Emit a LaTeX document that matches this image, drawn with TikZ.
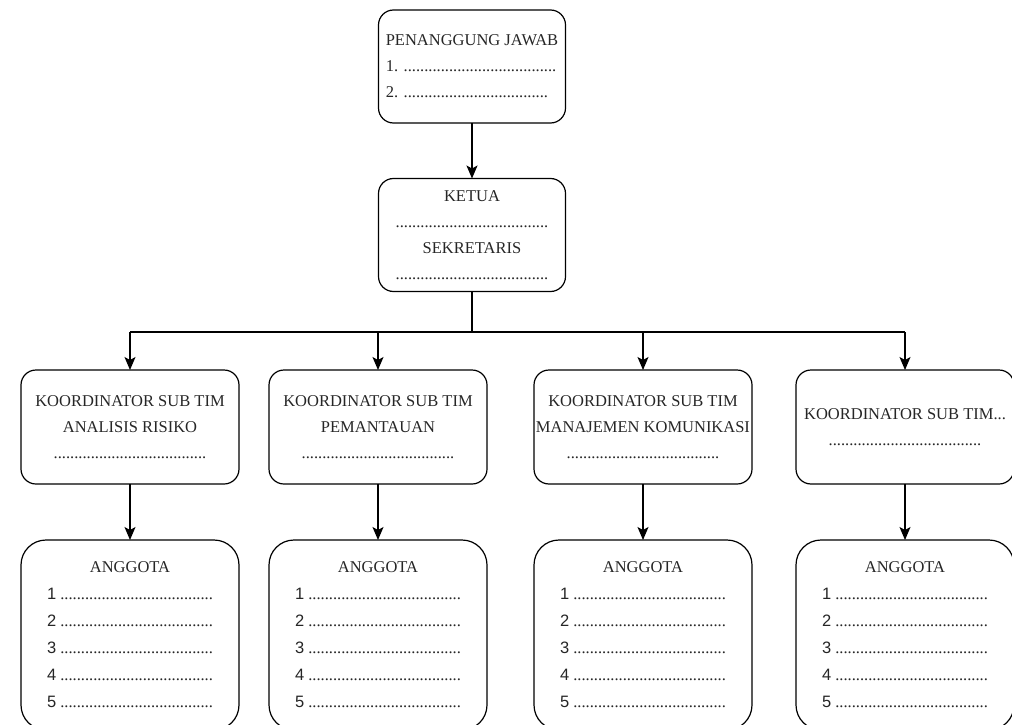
\documentclass[tikz,border=0pt]{standalone}
\usepackage{fontspec}
\setmainfont{Liberation Serif}
\setsansfont{Liberation Sans}
\usetikzlibrary{arrows.meta,positioning}

% garis titik isian
\newcommand{\titik}{.....................................}
\newcommand{\isianggota}{ANGGOTA\\{\sffamily 1} \titik\\{\sffamily 2} \titik\\{\sffamily 3} \titik\\{\sffamily 4} \titik\\{\sffamily 5} \titik}

\begin{document}
\begin{tikzpicture}[x=1pt, y=-1pt,
		kotak/.style={draw, line width=1.2pt, rounded corners=15pt, outer sep=0pt, inner sep=0pt, align=center, text=black!85, font=\fontsize{16.5}{26}\selectfont},
		atas/.style={kotak, minimum width=187pt, minimum height=113pt},
		koor/.style={kotak, minimum width=218pt, minimum height=114pt},
		anggota/.style={kotak, rounded corners=25pt, minimum width=218pt, minimum height=190pt, font=\fontsize{16.5}{27}\selectfont},
		panah/.style={-{Stealth[length=13pt,width=11pt,inset=3pt]}, line width=1.2pt}]
		\clip (0,0) rectangle (1012,725);
		
		% pimpinan
		\node[atas, align=left] (pj) at (472,66.5) {PENANGGUNG JAWAB\\1. \titik\\2. ...................................};
		\node[atas] (ketua) at (472,235) {KETUA\\\titik\\SEKRETARIS\\\titik};
		
		% koordinator sub tim
		\node[koor] (k1) at (130,427) {KOORDINATOR SUB TIM\\ANALISIS RISIKO\\\titik};
		\node[koor] (k2) at (378,427) {KOORDINATOR SUB TIM\\PEMANTAUAN\\\titik};
		\node[koor] (k3) at (643,427) {KOORDINATOR SUB TIM\\MANAJEMEN KOMUNIKASI\\\titik};
		\node[koor] (k4) at (905,427) {KOORDINATOR SUB TIM...\\\titik};
		
		% anggota
		\node[anggota] (a1) at (130,635) {\isianggota};
		\node[anggota] (a2) at (378,635) {\isianggota};
		\node[anggota] (a3) at (643,635) {\isianggota};
		\node[anggota] (a4) at (905,635) {\isianggota};
		
		% garis
		\coordinate (cabang) at (472,332);
		\draw[panah] (pj) -- (ketua);
		\draw[line width=1.2pt] (ketua) -- (cabang);
		\draw[line width=1.2pt] (cabang -| k1) -- (cabang -| k4);
		\foreach \i in {1,...,4} {
			\draw[panah] (cabang -| k\i) -- (k\i);
			\draw[panah] (k\i) -- (a\i);
		}
	\end{tikzpicture}
\end{document}
